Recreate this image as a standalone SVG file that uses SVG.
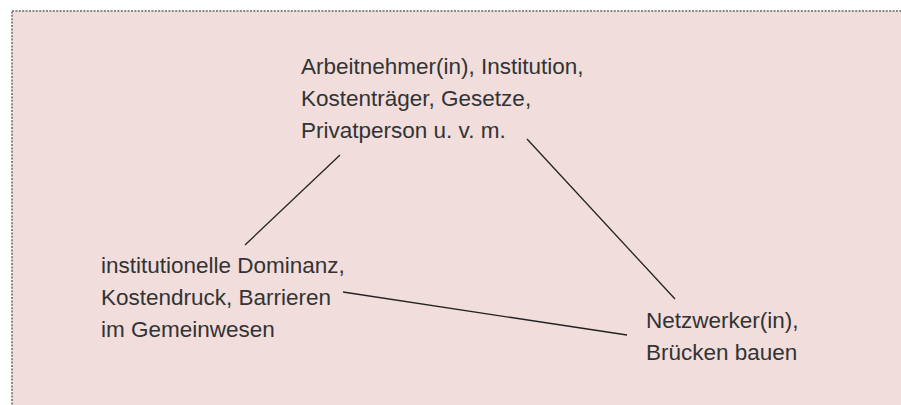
<svg xmlns="http://www.w3.org/2000/svg" width="901" height="405" viewBox="0 0 901 405">
<style>
.t{font-family:"Liberation Sans","DejaVu Sans",sans-serif;font-size:22.5px;fill:#333}
.c{stroke:#222;stroke-width:1.3;fill:none}
</style>
<rect x="0" y="0" width="901" height="405" fill="#fff"/>
<rect x="12" y="11" width="900" height="400" fill="#F0DDDC" stroke="#888" stroke-width="2" stroke-dasharray="2 1.4"/>
<g id="connectors">
<line class="c" x1="340" y1="155" x2="245" y2="245"/>
<line class="c" x1="527" y1="139" x2="675" y2="299"/>
<line class="c" x1="343" y1="292" x2="627" y2="335"/>
</g>
<g id="node-top">
<text class="t" x="301" y="74">Arbeitnehmer(in), Institution,</text>
<text class="t" x="301" y="106">Kostenträger, Gesetze,</text>
<text class="t" x="301" y="138">Privatperson u. v. m.</text>
</g>
<g id="node-left">
<text class="t" x="101" y="273">institutionelle Dominanz,</text>
<text class="t" x="101" y="305">Kostendruck, Barrieren</text>
<text class="t" x="101" y="337">im Gemeinwesen</text>
</g>
<g id="node-right">
<text class="t" x="646" y="328">Netzwerker(in),</text>
<text class="t" x="646" y="360">Brücken bauen</text>
</g>
</svg>
